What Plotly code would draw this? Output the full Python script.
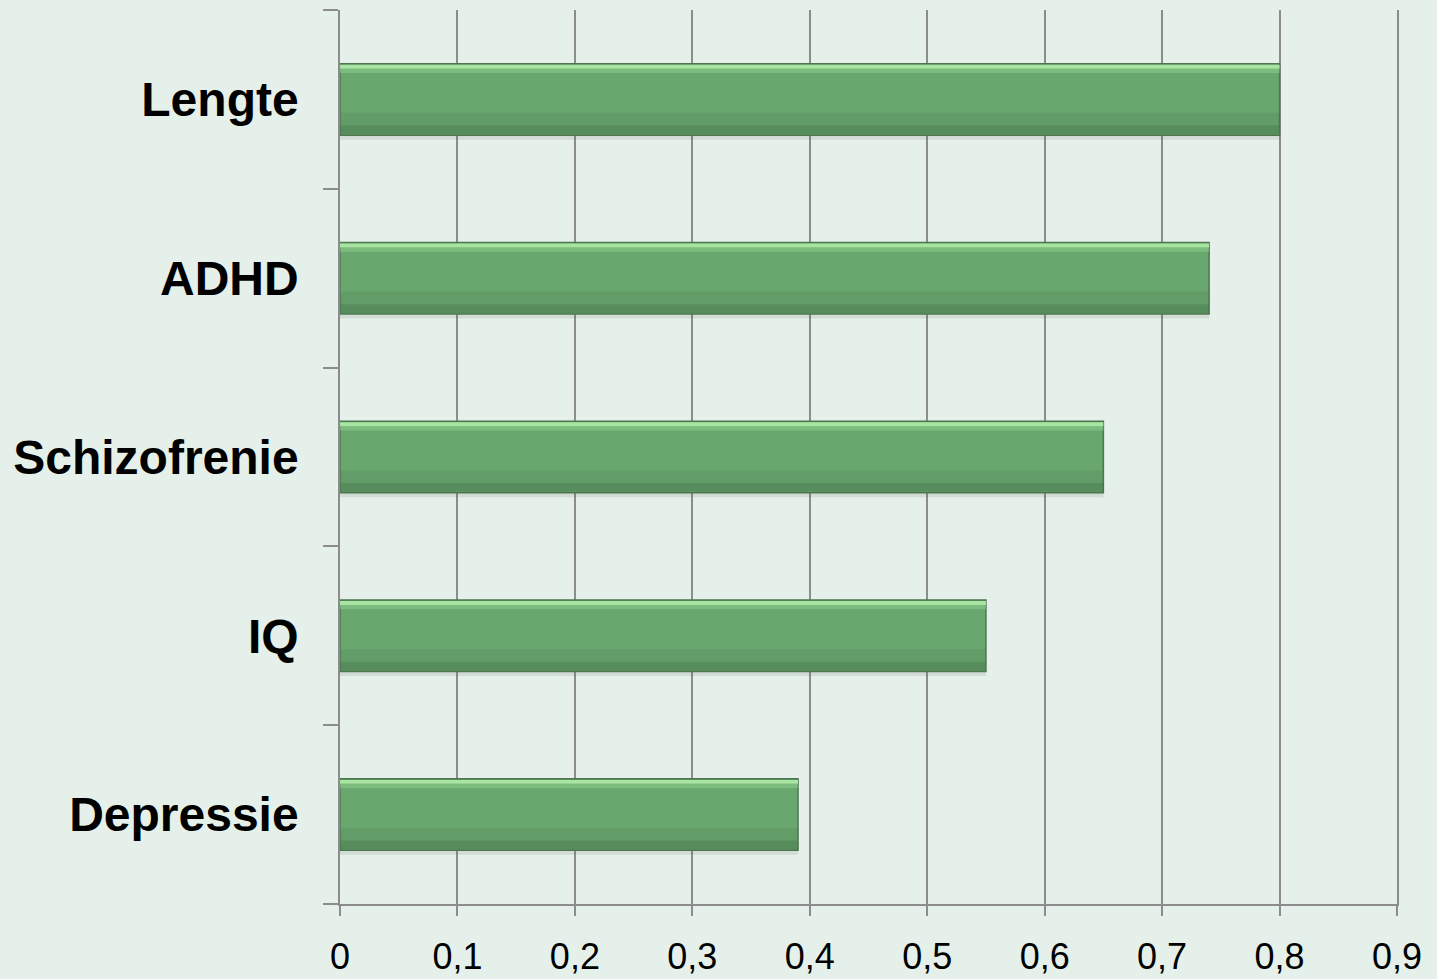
import plotly.graph_objects as go

# Heritability estimates per trait
categories = ["Depressie", "IQ", "Schizofrenie", "ADHD", "Lengte"]
values = [0.39, 0.55, 0.65, 0.74, 0.80]
tick_vals = [0, 0.1, 0.2, 0.3, 0.4, 0.5, 0.6, 0.7, 0.8, 0.9]
tick_text = ["0", "0,1", "0,2", "0,3", "0,4", "0,5", "0,6", "0,7", "0,8", "0,9"]

BG = "#e5f0ea"
FONT = "Liberation Sans, Arial, sans-serif"

fig = go.Figure()

# soft shadow under each bar
fig.add_trace(go.Bar(
    y=categories, x=values, orientation="h",
    offset=-0.225, width=0.03,
    marker=dict(color="rgba(60,80,60,0.12)", line=dict(width=0)),
    hoverinfo="skip", showlegend=False,
))

# main bar body
fig.add_trace(go.Bar(
    y=categories, x=values, orientation="h",
    offset=-0.2, width=0.4,
    marker=dict(color="#68a76d", line=dict(color="#4d7550", width=1.5)),
    showlegend=False,
))

# darker lower band
fig.add_trace(go.Bar(
    y=categories, x=values, orientation="h",
    offset=-0.195, width=0.12,
    marker=dict(color="rgba(80,125,85,0.25)", line=dict(width=0)),
    hoverinfo="skip", showlegend=False,
))
fig.add_trace(go.Bar(
    y=categories, x=values, orientation="h",
    offset=-0.195, width=0.05,
    marker=dict(color="rgba(70,115,75,0.35)", line=dict(width=0)),
    hoverinfo="skip", showlegend=False,
))

# light highlight along the top edge
fig.add_trace(go.Bar(
    y=categories, x=values, orientation="h",
    offset=0.172, width=0.022,
    marker=dict(color="rgba(172,232,166,0.95)", line=dict(width=0)),
    hoverinfo="skip", showlegend=False,
))
fig.add_trace(go.Bar(
    y=categories, x=values, orientation="h",
    offset=0.148, width=0.024,
    marker=dict(color="rgba(140,205,140,0.55)", line=dict(width=0)),
    hoverinfo="skip", showlegend=False,
))

fig.update_layout(
    width=1437, height=979,
    margin=dict(l=340, r=40, t=10, b=75),
    paper_bgcolor=BG, plot_bgcolor=BG,
    barmode="overlay",
    showlegend=False,
    font=dict(family=FONT, color="#000000"),
)

fig.update_xaxes(
    range=[0, 0.9],
    tickvals=tick_vals, ticktext=tick_text,
    tickfont=dict(size=36, family=FONT),
    showgrid=True, gridcolor="#8c8c8c", gridwidth=1.5,
    zeroline=False,
    showline=True, linecolor="#8c8c8c", linewidth=1.5,
    ticks="outside", ticklen=10, tickcolor="#8c8c8c", tickwidth=1.5,
    ticklabelstandoff=10,
    automargin=False,
)

fig.update_yaxes(
    categoryorder="array", categoryarray=categories,
    range=[-0.5, 4.5],
    tickfont=dict(size=48, family=FONT, weight="bold"),
    showgrid=False, zeroline=False,
    showline=True, linecolor="#8c8c8c", linewidth=1.5, mirror=True,
    ticks="outside", ticklen=15, tickcolor="#8c8c8c", tickwidth=1.5,
    tickson="boundaries",
    ticklabelstandoff=30,
    automargin=False,
)

fig.write_html("out.html")
